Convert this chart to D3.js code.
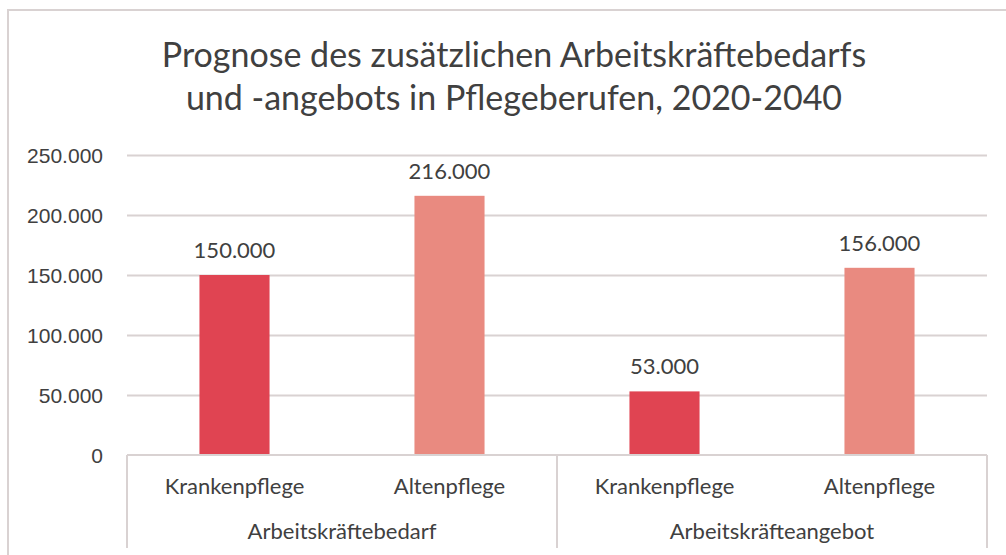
<!DOCTYPE html>
<html>
<head>
<meta charset="utf-8">
<script src="https://cdn.jsdelivr.net/npm/d3@7"></script>
<style>
  body { margin: 0; background: #fff; }
  svg { display: block; font-family: Lato, "Open Sans", sans-serif; }
</style>
</head>
<body>
<div id="chart"></div>
<script>
// Données du graphique
const groups = ["Arbeitskräftebedarf", "Arbeitskräfteangebot"];
const subcats = ["Krankenpflege", "Altenpflege"];
const krankenpflege = [150000, 53000];
const altenpflege = [216000, 156000];
const yTicks = [0, 50000, 100000, 150000, 200000, 250000];
const titleLines = [
    "Prognose des zusätzlichen Arbeitskräftebedarfs",
    "und -angebots in Pflegeberufen, 2020-2040"
];

function drawChart() {
    const width = 1006;
    const height = 555;
    const margin = { top: 155, right: 19, bottom: 100, left: 127 };
    const textColor = '#404040';
    const lineColor = '#d9d2d2';
    const colors = { Krankenpflege: '#e04452', Altenpflege: '#e98a80' };

    const de = d3.formatLocale({ decimal: ',', thousands: '.', grouping: [3], currency: ['', ' €'] });
    const fmt = de.format(',d');

    const svg = d3.select('#chart')
        .append('svg')
        .attr('width', width)
        .attr('height', height);

    // cadre du graphique (coupé à droite et en bas)
    svg.append('rect')
        .attr('x', 8)
        .attr('y', 10)
        .attr('width', 1100)
        .attr('height', 700)
        .attr('fill', '#fff')
        .attr('stroke', lineColor)
        .attr('stroke-width', 2);

    // Titre
    svg.append('text')
        .attr('x', 514)
        .attr('y', 67)
        .attr('text-anchor', 'middle')
        .attr('fill', textColor)
        .attr('font-size', '34px')
        .selectAll('tspan')
        .data(titleLines)
        .join('tspan')
        .attr('x', 514)
        .attr('dy', (d, i) => i === 0 ? 0 : 43)
        .text(d => d);

    // Échelles
    const x0 = d3.scaleBand()
        .domain(groups)
        .range([margin.left, width - margin.right]);

    const x1 = d3.scaleBand()
        .domain(subcats)
        .range([0, x0.bandwidth()])
        .paddingInner(0.674)
        .paddingOuter(0.337);

    const y = d3.scaleLinear()
        .domain([0, 250000])
        .range([height - margin.bottom, margin.top]);

    // Grille
    svg.append('g')
        .attr('transform', `translate(${margin.left}, 0)`)
        .call(d3.axisLeft(y).tickValues(yTicks.slice(1)).tickSize(-(width - margin.left - margin.right)).tickFormat(''))
        .call(g => g.select('.domain').remove())
        .call(g => g.selectAll('line').attr('stroke', lineColor).attr('stroke-width', 2));

    // Axe Y
    svg.append('g')
        .attr('transform', `translate(${margin.left - 24}, 0)`)
        .call(d3.axisLeft(y).tickValues(yTicks).tickSize(0).tickFormat(fmt))
        .call(g => g.select('.domain').remove())
        .call(g => g.selectAll('text')
            .attr('fill', textColor)
            .attr('font-size', '21px')
            .attr('x', 0)
            .attr('dy', '0.35em'));

    // Barres
    const rows = [];
    groups.forEach((g, i) => {
        rows.push({ group: g, cat: 'Krankenpflege', value: krankenpflege[i] });
        rows.push({ group: g, cat: 'Altenpflege', value: altenpflege[i] });
    });

    svg.selectAll('.bar')
        .data(rows)
        .join('rect')
        .attr('class', 'bar')
        .attr('x', d => x0(d.group) + x1(d.cat))
        .attr('y', d => y(d.value))
        .attr('width', x1.bandwidth())
        .attr('height', d => y(0) - y(d.value))
        .attr('fill', d => colors[d.cat]);

    // Étiquettes de valeurs
    svg.selectAll('.value-label')
        .data(rows)
        .join('text')
        .attr('class', 'value-label')
        .attr('x', d => x0(d.group) + x1(d.cat) + x1.bandwidth() / 2)
        .attr('y', d => y(d.value) - 17)
        .attr('text-anchor', 'middle')
        .attr('fill', textColor)
        .attr('font-size', '22px')
        .text(d => fmt(d.value));

    // Axe X à deux niveaux
    const axisY = y(0);
    const axisBottom = axisY + 93;
    svg.append('line')
        .attr('x1', margin.left)
        .attr('x2', width - margin.right)
        .attr('y1', axisY)
        .attr('y2', axisY)
        .attr('stroke', lineColor)
        .attr('stroke-width', 2);

    const seps = groups.map(g => x0(g)).concat([x0(groups[groups.length - 1]) + x0.bandwidth()]);
    svg.selectAll('.sep')
        .data(seps)
        .join('line')
        .attr('class', 'sep')
        .attr('x1', d => d)
        .attr('x2', d => d)
        .attr('y1', axisY)
        .attr('y2', axisBottom)
        .attr('stroke', lineColor)
        .attr('stroke-width', 2);

    svg.selectAll('.cat-label')
        .data(rows)
        .join('text')
        .attr('class', 'cat-label')
        .attr('x', d => x0(d.group) + x1(d.cat) + x1.bandwidth() / 2)
        .attr('y', axisY + 39)
        .attr('text-anchor', 'middle')
        .attr('fill', textColor)
        .attr('font-size', '22px')
        .text(d => d.cat);

    svg.selectAll('.group-label')
        .data(groups)
        .join('text')
        .attr('class', 'group-label')
        .attr('x', d => x0(d) + x0.bandwidth() / 2)
        .attr('y', axisY + 84)
        .attr('text-anchor', 'middle')
        .attr('fill', textColor)
        .attr('font-size', '22px')
        .text(d => d);
}

document.addEventListener('DOMContentLoaded', drawChart);
</script>
</body>
</html>
